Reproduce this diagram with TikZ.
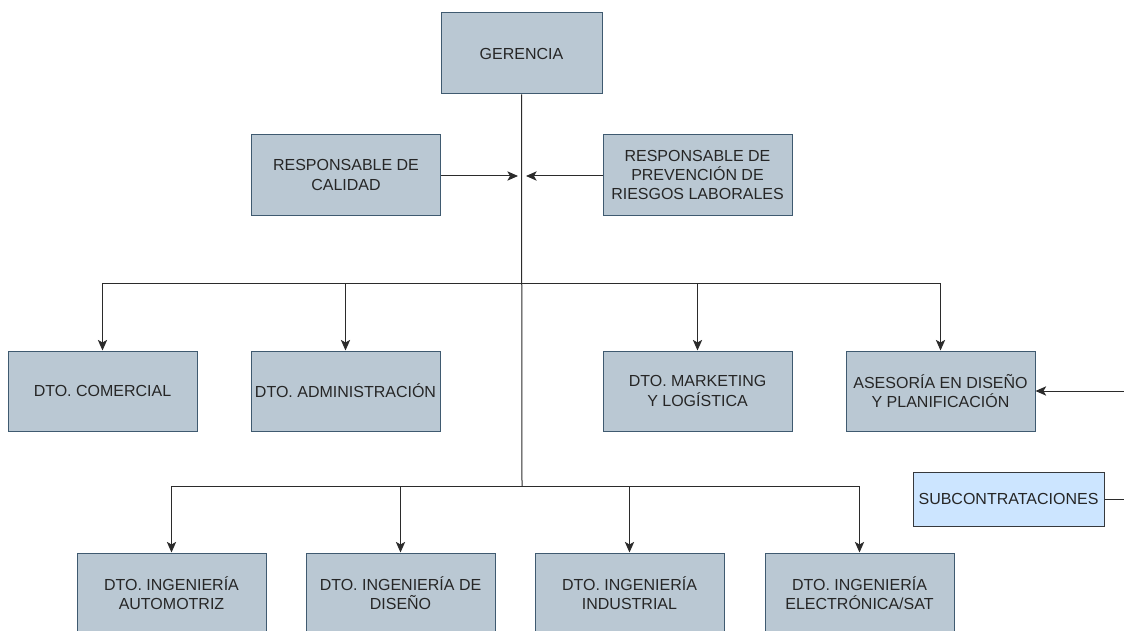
\documentclass[tikz,border=0pt]{standalone}
\usepackage{fontspec}
\setmainfont{Liberation Sans}
\usetikzlibrary{arrows.meta}
\definecolor{boxfill}{HTML}{BAC8D3}
\definecolor{boxline}{HTML}{3F5A70}
\definecolor{subfill}{HTML}{CCE5FF}
\definecolor{subline}{HTML}{36393D}
\definecolor{wire}{HTML}{2B2B2B}
\definecolor{txt}{HTML}{262626}
\tikzset{
  unitbox/.style={draw=boxline, fill=boxfill, line width=0.75pt, inner sep=0pt,
    align=center, text=txt, font=\fontsize{12}{14.6}\selectfont,
    minimum width=141.75pt, minimum height=60pt},
  subbox/.style={unitbox, draw=subline, fill=subfill, minimum width=143.25pt, minimum height=40.5pt},
  link/.style={draw=wire, line width=0.75pt},
  arrowlink/.style={link, -{Stealth[length=8pt, width=7pt, inset=2pt]}},
}
\begin{document}
\begin{tikzpicture}[x=0.75pt, y=-0.75pt]
\useasboundingbox (0,0) rectangle (1124,631);
\clip (0,0) rectangle (1124,631);

% top level
\node[unitbox, minimum width=120.75pt, minimum height=60.75pt] (ger) at (521.5,53.5) {GERENCIA};
\node[unitbox] (cal) at (346,175) {RESPONSABLE DE\\CALIDAD};
\node[unitbox] (prl) at (697.5,175) {RESPONSABLE DE\\PREVENCIÓN DE\\RIESGOS LABORALES};

% first row of departments
\node[unitbox] (com) at (102.5,391) {DTO. COMERCIAL};
\node[unitbox] (adm) at (345.5,391) {DTO. ADMINISTRACIÓN};
\node[unitbox] (mkt) at (697.5,391) {DTO. MARKETING\\Y LOGÍSTICA};
\node[unitbox] (ase) at (940.5,391) {ASESORÍA EN DISEÑO\\Y PLANIFICACIÓN};

% subcontracting
\node[subbox] (sub) at (1008.5,499) {SUBCONTRATACIONES};

% engineering departments
\node[unitbox] (ina) at (171.5,593) {DTO. INGENIERÍA\\AUTOMOTRIZ};
\node[unitbox] (ind) at (400.5,593) {DTO. INGENIERÍA DE\\DISEÑO};
\node[unitbox] (inu) at (629.5,593) {DTO. INGENIERÍA\\INDUSTRIAL};
\node[unitbox] (ine) at (859.5,593) {DTO. INGENIERÍA\\ELECTRÓNICA/SAT};

% junction points
\coordinate (bus1) at (522,283);
\coordinate (bus2) at (522,486);
\coordinate (calin) at (518,176);
\coordinate (prlin) at (526,176);
\coordinate (extin) at (1124,391);
\coordinate (extout) at (1124,499);

% trunk
\draw[link] (ger.south) -- (bus2);

% staff positions
\draw[arrowlink] (cal.east |- calin) -- (calin);
\draw[arrowlink] (prl.west |- prlin) -- (prlin);

% first distribution bar
\draw[link] (com.north |- bus1) -- (ase.north |- bus1);
\foreach \n in {com,adm,mkt,ase}
  \draw[arrowlink] (\n.north |- bus1) -- (\n.north);

% second distribution bar
\draw[link] (ina.north |- bus2) -- (ine.north |- bus2);
\foreach \n in {ina,ind,inu,ine}
  \draw[arrowlink] (\n.north |- bus2) -- (\n.north);

% external links
\draw[arrowlink] (extin) -- (ase.east);
\draw[link] (sub.east) -- (extout);
\end{tikzpicture}
\end{document}
